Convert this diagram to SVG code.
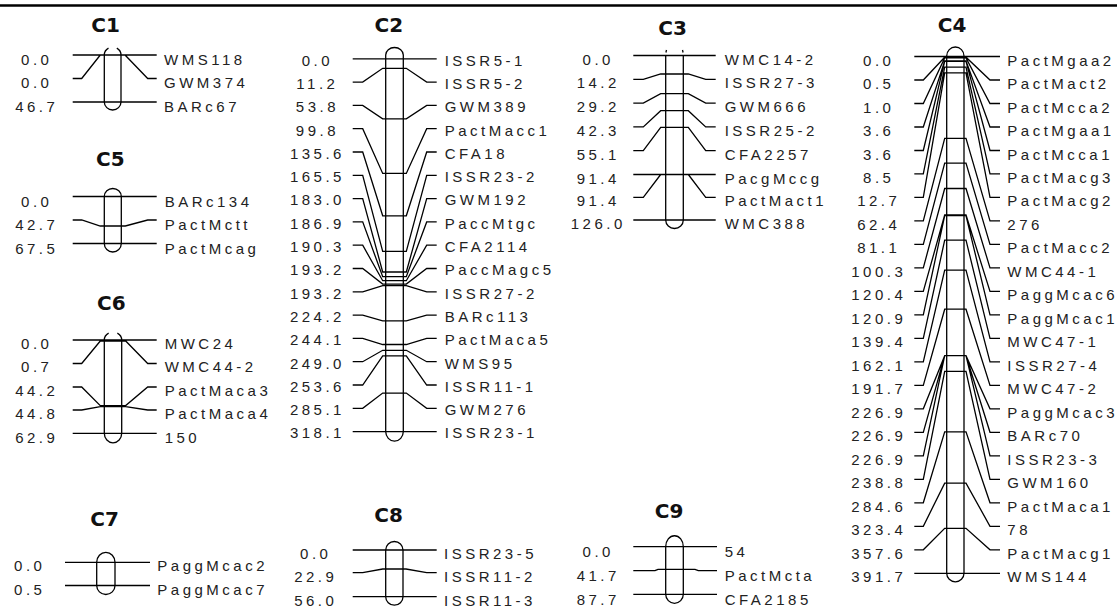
<svg xmlns="http://www.w3.org/2000/svg" width="1117" height="607" viewBox="0 0 1117 607">
<style>
.bg{fill:#fff}
.bar{fill:none;stroke:#000;stroke-width:1.3}
.cn{fill:none;stroke:#000;stroke-width:1.3}
.n{font-family:"Liberation Sans",Arial,sans-serif;font-size:15px;letter-spacing:3.5px;fill:#222;text-anchor:middle}
.l{font-family:"Liberation Sans",Arial,sans-serif;font-size:15px;letter-spacing:3.5px;fill:#222}
.t{font-family:"DejaVu Sans",Verdana,sans-serif;font-weight:bold;font-size:20px;fill:#111;text-anchor:middle}
</style>
<rect class="bg" x="0" y="0" width="1117" height="607"/>
<line x1="0" y1="5.5" x2="1117" y2="5.5" stroke="#000" stroke-width="2.5"/>

<g id="connectors">
<!-- C1 -->
<path class="cn" d="M72.7,55H156.7M72.7,78.5H81.7L100.3,55H104.3M121,55H125L147.7,78.5H156.7M72.7,102H156.7"/>
<!-- C5 -->
<path class="cn" d="M72.7,196.5H156.7M72.7,220H81.7L100.3,226H104.3M121.3,226H125.3L147.7,220H156.7M104.3,226H121.3M72.7,243.5H156.7"/>
<!-- C6 -->
<path class="cn" d="M72.7,340H156.7M72.7,363.5H81.7L100.3,341H104.3M121.7,341H125.7L147.7,363.5H156.7M104.3,341H121.7M72.7,387H81.7L100.3,405.6H104.3M121.7,405.6H125.7L147.7,387H156.7M104.3,405.6H121.7M72.7,410H81.7L100.3,406.6H104.3M121.7,406.6H125.7L147.7,410H156.7M104.3,406.6H121.7M72.7,433.3H156.7"/>
<!-- C7 -->
<path class="cn" d="M65,562.3H150M65,585.5H150"/>
<!-- C2 -->
<path class="cn" d="M352.7,58.8H436.7
M352.7,82.1H362.7L382.7,68.3H385.7M403.3,68.3H406.3L426.7,82.1H436.7M385.7,68.3H403.3
M352.7,105.4H362.7L382.7,118.8H385.7M403.3,118.8H406.3L426.7,105.4H436.7M385.7,118.8H403.3
M352.7,128.7H362.7L382.7,173.4H385.7M403.3,173.4H406.3L426.7,128.7H436.7M385.7,173.4H403.3
M352.7,152H362.7L382.7,215.8H385.7M403.3,215.8H406.3L426.7,152H436.7M385.7,215.8H403.3
M352.7,175.3H362.7L382.7,251.3H385.7M403.3,251.3H406.3L426.7,175.3H436.7M385.7,251.3H403.3
M352.7,198.6H362.7L382.7,272H385.7M403.3,272H406.3L426.7,198.6H436.7M385.7,272H403.3
M352.7,221.9H362.7L382.7,276.7H385.7M403.3,276.7H406.3L426.7,221.9H436.7M385.7,276.7H403.3
M352.7,245.2H362.7L382.7,280.7H385.7M403.3,280.7H406.3L426.7,245.2H436.7M385.7,280.7H403.3
M352.7,268.5H362.7L382.7,284.1H385.7M403.3,284.1H406.3L426.7,268.5H436.7M385.7,284.1H403.3
M352.7,291.8H362.7L382.7,285.6H385.7M403.3,285.6H406.3L426.7,291.8H436.7M385.7,285.6H403.3
M352.7,315.1H362.7L382.7,320.9H385.7M403.3,320.9H406.3L426.7,315.1H436.7M385.7,320.9H403.3
M352.7,338.4H362.7L382.7,344.5H385.7M403.3,344.5H406.3L426.7,338.4H436.7M385.7,344.5H403.3
M352.7,361.7H362.7L382.7,350.3H385.7M403.3,350.3H406.3L426.7,361.7H436.7M385.7,350.3H403.3
M352.7,385H362.7L382.7,355.8H385.7M403.3,355.8H406.3L426.7,385H436.7M385.7,355.8H403.3
M352.7,408.3H362.7L382.7,393.1H385.7M403.3,393.1H406.3L426.7,408.3H436.7M385.7,393.1H403.3
M352.7,431.6H436.7"/>
<!-- C8 -->
<path class="cn" d="M352.7,550H436.7M352.7,572.7H362.7L382.7,569H385.7M403,569H406L426.7,572.7H436.7M385.7,569H403M352.7,596.7H436.7"/>
<!-- C3 -->
<path class="cn" d="M633.3,55.5H715.7
M633.3,79.3H643.3L660.7,74H665.7M683.3,74H688.3L705.7,79.3H715.7M665.7,74H683.3
M633.3,103.1H643.3L660.7,93.6H665.7M683.3,93.6H688.3L705.7,103.1H715.7M665.7,93.6H683.3
M633.3,126.9H643.3L660.7,110.7H665.7M683.3,110.7H688.3L705.7,126.9H715.7M665.7,110.7H683.3
M633.3,150.7H643.3L660.7,127.4H665.7M683.3,127.4H688.3L705.7,150.7H715.7M665.7,127.4H683.3
M633.3,174.5H715.7
M633.3,197.3H643.3L660.7,174.5H665.7M683.3,174.5H688.3L705.7,197.3H715.7
M633.3,220H715.7"/>
<!-- C9 -->
<path class="cn" d="M633.3,546.7H717M633.3,570.7H655L658,569.3H665.7M683.3,569.3H695L698.3,570.7H717M665.7,569.3H683.3M633.3,594.3H717"/>
<!-- C4 -->
<path class="cn" d="M914.3,56.5H1000
M914.3,80H923.3L944.7,57.2H946.7M964,57.2H966L990,80H1000M946.7,57.2H964
M914.3,103.5H923.3L944.7,57.9H946.7M964,57.9H966L990,103.5H1000M946.7,57.9H964
M914.3,127H923.3L944.7,60.8H946.7M964,60.8H966L990,127H1000M946.7,60.8H964
M914.3,150.5H923.3L944.7,61.4H946.7M964,61.4H966L990,150.5H1000M946.7,61.4H964
M914.3,173.9H923.3L944.7,67.2H946.7M964,67.2H966L990,173.9H1000M946.7,67.2H964
M914.3,197.4H923.3L944.7,72.8H946.7M964,72.8H966L990,197.4H1000M946.7,72.8H964
M914.3,220.9H923.3L944.7,138.4H946.7M964,138.4H966L990,220.9H1000M946.7,138.4H964
M914.3,244.4H923.3L944.7,163.1H946.7M964,163.1H966L990,244.4H1000M946.7,163.1H964
M914.3,267.9H923.3L944.7,188.5H946.7M964,188.5H966L990,267.9H1000M946.7,188.5H964
M914.3,291.4H923.3L944.7,215H946.7M964,215H966L990,291.4H1000M946.7,215H964
M914.3,314.9H923.3L944.7,215.7H946.7M964,215.7H966L990,314.9H1000M946.7,215.7H964
M914.3,338.4H923.3L944.7,240.1H946.7M964,240.1H966L990,338.4H1000M946.7,240.1H964
M914.3,361.9H923.3L944.7,270.1H946.7M964,270.1H966L990,361.9H1000M946.7,270.1H964
M914.3,385.4H923.3L944.7,309.2H946.7M964,309.2H966L990,385.4H1000M946.7,309.2H964
M914.3,408.8H923.3L944.7,355.7H946.7M964,355.7H966L990,408.8H1000M946.7,355.7H964
M914.3,432.3H923.3L944.7,355.7H946.7M964,355.7H966L990,432.3H1000
M914.3,455.8H923.3L944.7,355.7H946.7M964,355.7H966L990,455.8H1000
M914.3,479.3H923.3L944.7,371.4H946.7M964,371.4H966L990,479.3H1000M946.7,371.4H964
M914.3,502.8H923.3L944.7,431.9H946.7M964,431.9H966L990,502.8H1000M946.7,431.9H964
M914.3,526.3H923.3L944.7,483.1H946.7M964,483.1H966L990,526.3H1000M946.7,483.1H964
M914.3,549.8H923.3L944.7,528.3H946.7M964,528.3H966L990,549.8H1000M946.7,528.3H964
M914.3,573.3H1000"/>
</g>

<g id="C1">
<text class="t" x="105.5" y="31.5">C1</text>
<path class="bar" d="M104.3,55V102M121,55V102M104.3,102A8.35,8 0 0 0 121,102M104.3,55A8.35,8 0 0 1 108.5,48.1M116.8,48.1A8.35,8 0 0 1 121,55"/>
<text class="n" x="36.75" y="64.5">0.0</text><text class="l" x="164" y="64.5">WMS118</text>
<text class="n" x="36.75" y="88">0.0</text><text class="l" x="164" y="88">GWM374</text>
<text class="n" x="36.75" y="111.5">46.7</text><text class="l" x="164" y="111.5">BARc67</text>
</g>

<g id="C5">
<text class="t" x="110.3" y="165.5">C5</text>
<path class="bar" d="M104.3,196.5V243.5M121.3,196.5V243.5M104.3,196.5A8.5,8 0 0 1 121.3,196.5M104.3,243.5A8.5,8.5 0 0 0 121.3,243.5"/>
<text class="n" x="36.75" y="206.5">0.0</text><text class="l" x="164.7" y="206.5">BARc134</text>
<text class="n" x="36.75" y="229.7">42.7</text><text class="l" x="164.7" y="229.7">PactMctt</text>
<text class="n" x="36.75" y="253.5">67.5</text><text class="l" x="164.7" y="253.5">PactMcag</text>
</g>

<g id="C6">
<text class="t" x="111.3" y="310">C6</text>
<path class="bar" d="M104.3,340V433.3M121.7,340V433.3M104.3,433.3A8.7,9.5 0 0 0 121.7,433.3M104.3,340A8.7,8 0 0 1 108.65,333.1M117.35,333.1A8.7,8 0 0 1 121.7,340"/>
<text class="n" x="36.75" y="349">0.0</text><text class="l" x="164.7" y="349">MWC24</text>
<text class="n" x="36.75" y="371.5">0.7</text><text class="l" x="164.7" y="371.5">WMC44-2</text>
<text class="n" x="36.75" y="395.5">44.2</text><text class="l" x="164.7" y="395.5">PactMaca3</text>
<text class="n" x="36.75" y="418.7">44.8</text><text class="l" x="164.7" y="418.7">PactMaca4</text>
<text class="n" x="36.75" y="442.7">62.9</text><text class="l" x="164.7" y="442.7">150</text>
</g>

<g id="C7">
<text class="t" x="104.5" y="526">C7</text>
<path class="bar" d="M96.7,562.3V585.5M115,562.3V585.5M96.7,562.3A9.15,10 0 0 1 115,562.3M96.7,585.5A9.15,9 0 0 0 115,585.5"/>
<text class="n" x="29.75" y="571">0.0</text><text class="l" x="157.3" y="571">PaggMcac2</text>
<text class="n" x="29.75" y="595">0.5</text><text class="l" x="157.3" y="595">PaggMcac7</text>
</g>

<g id="C2">
<text class="t" x="388.8" y="31.7">C2</text>
<path class="bar" d="M385.7,55V431.6M403.3,55V431.6M385.7,55A8.8,7.5 0 0 1 403.3,55M385.7,431.6A8.8,9.5 0 0 0 403.3,431.6"/>
<text class="n" x="317.4" y="65.6">0.0</text><text class="l" x="444.7" y="65.6">ISSR5-1</text>
<text class="n" x="317.4" y="88.9">11.2</text><text class="l" x="444.7" y="88.9">ISSR5-2</text>
<text class="n" x="317.4" y="112.2">53.8</text><text class="l" x="444.7" y="112.2">GWM389</text>
<text class="n" x="317.4" y="135.5">99.8</text><text class="l" x="444.7" y="135.5">PactMacc1</text>
<text class="n" x="317.4" y="158.8">135.6</text><text class="l" x="444.7" y="158.8">CFA18</text>
<text class="n" x="317.4" y="182.1">165.5</text><text class="l" x="444.7" y="182.1">ISSR23-2</text>
<text class="n" x="317.4" y="205.4">183.0</text><text class="l" x="444.7" y="205.4">GWM192</text>
<text class="n" x="317.4" y="228.7">186.9</text><text class="l" x="444.7" y="228.7">PaccMtgc</text>
<text class="n" x="317.4" y="252">190.3</text><text class="l" x="444.7" y="252">CFA2114</text>
<text class="n" x="317.4" y="275.3">193.2</text><text class="l" x="444.7" y="275.3">PaccMagc5</text>
<text class="n" x="317.4" y="298.6">193.2</text><text class="l" x="444.7" y="298.6">ISSR27-2</text>
<text class="n" x="317.4" y="321.9">224.2</text><text class="l" x="444.7" y="321.9">BARc113</text>
<text class="n" x="317.4" y="345.2">244.1</text><text class="l" x="444.7" y="345.2">PactMaca5</text>
<text class="n" x="317.4" y="368.5">249.0</text><text class="l" x="444.7" y="368.5">WMS95</text>
<text class="n" x="317.4" y="391.8">253.6</text><text class="l" x="444.7" y="391.8">ISSR11-1</text>
<text class="n" x="317.4" y="415.1">285.1</text><text class="l" x="444.7" y="415.1">GWM276</text>
<text class="n" x="317.4" y="438.4">318.1</text><text class="l" x="444.7" y="438.4">ISSR23-1</text>
</g>

<g id="C8">
<text class="t" x="388.5" y="521.7">C8</text>
<path class="bar" d="M385.7,550V596.7M403,550V596.7M385.7,550A8.65,8.5 0 0 1 403,550M385.7,596.7A8.65,8.5 0 0 0 403,596.7"/>
<text class="n" x="315.75" y="559">0.0</text><text class="l" x="444" y="559">ISSR23-5</text>
<text class="n" x="315.75" y="581.5">22.9</text><text class="l" x="444" y="581.5">ISSR11-2</text>
<text class="n" x="315.75" y="605.5">56.0</text><text class="l" x="444" y="605.5">ISSR11-3</text>
</g>

<g id="C3">
<text class="t" x="672.5" y="35">C3</text>
<path class="bar" d="M665.7,55.5V220M683.3,55.5V220M665.9,52.5l0.6,-2.5M683.1,52.5l-0.6,-2.5M665.7,220A8.8,8.5 0 0 0 683.3,220"/>
<text class="n" x="598.25" y="64.5">0.0</text><text class="l" x="724.7" y="64.5">WMC14-2</text>
<text class="n" x="598.25" y="88.3">14.2</text><text class="l" x="724.7" y="88.3">ISSR27-3</text>
<text class="n" x="598.25" y="112.1">29.2</text><text class="l" x="724.7" y="112.1">GWM666</text>
<text class="n" x="598.25" y="135.9">42.3</text><text class="l" x="724.7" y="135.9">ISSR25-2</text>
<text class="n" x="598.25" y="159.7">55.1</text><text class="l" x="724.7" y="159.7">CFA2257</text>
<text class="n" x="598.25" y="183.5">91.4</text><text class="l" x="724.7" y="183.5">PacgMccg</text>
<text class="n" x="598.25" y="206.3">91.4</text><text class="l" x="724.7" y="206.3">PactMact1</text>
<text class="n" x="598.25" y="229">126.0</text><text class="l" x="724.7" y="229">WMC388</text>
</g>

<g id="C9">
<text class="t" x="669" y="518">C9</text>
<path class="bar" d="M665.7,546.7V594.3M683.3,546.7V594.3M665.7,546.7A8.8,11 0 0 1 683.3,546.7M665.7,594.3A8.8,9 0 0 0 683.3,594.3"/>
<text class="n" x="598.25" y="557">0.0</text><text class="l" x="724.7" y="557">54</text>
<text class="n" x="598.25" y="580.5">41.7</text><text class="l" x="724.7" y="580.5">PactMcta</text>
<text class="n" x="598.25" y="604.5">87.7</text><text class="l" x="724.7" y="604.5">CFA2185</text>
</g>

<g id="C4">
<text class="t" x="952" y="31.7">C4</text>
<path class="bar" d="M946.7,56V573.3M964,56V573.3M946.7,56A8.65,9 0 0 1 964,56M946.7,573.3A8.65,8.5 0 0 0 964,573.3"/>
<text class="n" x="878.75" y="65.5">0.0</text><text class="l" x="1007.3" y="65.5">PactMgaa2</text>
<text class="n" x="878.75" y="89">0.5</text><text class="l" x="1007.3" y="89">PactMact2</text>
<text class="n" x="878.75" y="112.5">1.0</text><text class="l" x="1007.3" y="112.5">PactMcca2</text>
<text class="n" x="878.75" y="136">3.6</text><text class="l" x="1007.3" y="136">PactMgaa1</text>
<text class="n" x="878.75" y="159.5">3.6</text><text class="l" x="1007.3" y="159.5">PactMcca1</text>
<text class="n" x="878.75" y="182.9">8.5</text><text class="l" x="1007.3" y="182.9">PactMacg3</text>
<text class="n" x="878.75" y="206.4">12.7</text><text class="l" x="1007.3" y="206.4">PactMacg2</text>
<text class="n" x="878.75" y="229.9">62.4</text><text class="l" x="1007.3" y="229.9">276</text>
<text class="n" x="878.75" y="253.4">81.1</text><text class="l" x="1007.3" y="253.4">PactMacc2</text>
<text class="n" x="878.75" y="276.9">100.3</text><text class="l" x="1007.3" y="276.9">WMC44-1</text>
<text class="n" x="878.75" y="300.4">120.4</text><text class="l" x="1007.3" y="300.4">PaggMcac6</text>
<text class="n" x="878.75" y="323.9">120.9</text><text class="l" x="1007.3" y="323.9">PaggMcac1</text>
<text class="n" x="878.75" y="347.4">139.4</text><text class="l" x="1007.3" y="347.4">MWC47-1</text>
<text class="n" x="878.75" y="370.9">162.1</text><text class="l" x="1007.3" y="370.9">ISSR27-4</text>
<text class="n" x="878.75" y="394.4">191.7</text><text class="l" x="1007.3" y="394.4">MWC47-2</text>
<text class="n" x="878.75" y="417.8">226.9</text><text class="l" x="1007.3" y="417.8">PaggMcac3</text>
<text class="n" x="878.75" y="441.3">226.9</text><text class="l" x="1007.3" y="441.3">BARc70</text>
<text class="n" x="878.75" y="464.8">226.9</text><text class="l" x="1007.3" y="464.8">ISSR23-3</text>
<text class="n" x="878.75" y="488.3">238.8</text><text class="l" x="1007.3" y="488.3">GWM160</text>
<text class="n" x="878.75" y="511.8">284.6</text><text class="l" x="1007.3" y="511.8">PactMaca1</text>
<text class="n" x="878.75" y="535.3">323.4</text><text class="l" x="1007.3" y="535.3">78</text>
<text class="n" x="878.75" y="558.8">357.6</text><text class="l" x="1007.3" y="558.8">PactMacg1</text>
<text class="n" x="878.75" y="582.3">391.7</text><text class="l" x="1007.3" y="582.3">WMS144</text>
</g>
</svg>
